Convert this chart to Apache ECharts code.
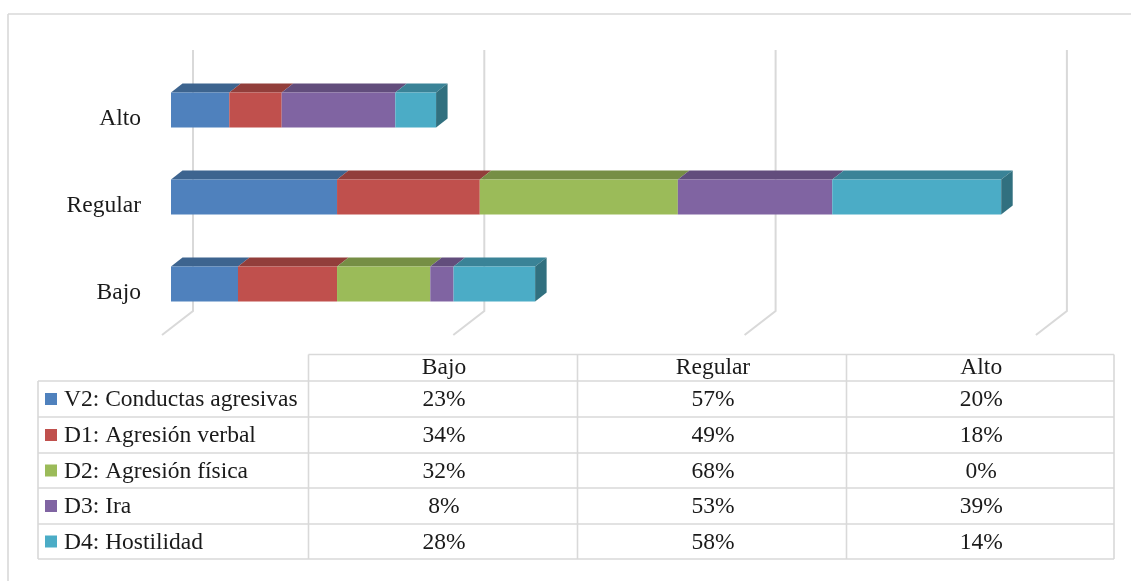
<!DOCTYPE html>
<html><head><meta charset="utf-8">
<style>html,body{margin:0;padding:0;background:#fff}#c{width:1131px;height:581px}</style>
<script src="https://cdn.jsdelivr.net/npm/echarts@6/dist/echarts.min.js"></script>
</head><body><div id="c"></div>
<script>
const categories = ['Bajo', 'Regular', 'Alto'];
const seriesNames = ['V2: Conductas agresivas', 'D1: Agresión verbal', 'D2: Agresión física', 'D3: Ira', 'D4: Hostilidad'];
const conductas = [23, 57, 20];
const verbal = [34, 49, 18];
const fisica = [32, 68, 0];
const ira = [8, 53, 39];
const hostilidad = [28, 58, 14];
const axisTicks = [0, 100, 200, 300];
const faceColors = ['#4F81BD', '#C0504D', '#9BBB59', '#8064A2', '#4BACC6'];
const topColors = ['#3D648F', '#923E3B', '#768E45', '#624D7C', '#3A8397'];
const sideColor = '#31707F';
const lineColor = '#D9D9D9';
const textColor = '#1A1A1A';
const FONT = '"Liberation Serif","Times New Roman",serif';
const FS = 23.5;

const allValues = [conductas, verbal, fisica, ira, hostilidad];
const totals = categories.map((_, c) => allValues.reduce((s, a) => s + a[c], 0));
const DX = 11.5, DY = 9;

function barSeries(i) {
  const data = categories.map((_, c) => {
    let start = 0;
    for (let k = 0; k < i; k++) start += allValues[k][c];
    return [start, start + allValues[i][c], c, totals[c]];
  });
  return {
    type: 'custom', name: seriesNames[i], z: 3 + i, clip: false, data: data,
    encode: { x: [0, 1], y: 2 },
    renderItem(params, api) {
      const s = api.value(0), e = api.value(1), t = api.value(3);
      if (e <= s) return { type: 'group', children: [] };
      const p0 = api.coord([s, api.value(2)]), p1 = api.coord([e, api.value(2)]);
      const h = api.size([0, 1])[1] * 0.402;
      const x0 = p0[0], x1 = p1[0], y0 = p0[1] - h / 2, y1 = p0[1] + h / 2;
      const kids = [
        { type: 'polygon', shape: { points: [[x0, y0], [x0 + DX, y0 - DY], [x1 + DX, y0 - DY], [x1, y0]] },
          style: { fill: topColors[i] } },
        { type: 'rect', shape: { x: x0, y: y0, width: x1 - x0, height: h }, style: { fill: faceColors[i] } }
      ];
      if (e === t) kids.push({ type: 'polygon',
        shape: { points: [[x1, y0], [x1 + DX, y0 - DY], [x1 + DX, y1 - DY], [x1, y1]] },
        style: { fill: sideColor } });
      return { type: 'group', children: kids };
    }
  };
}

const wallSeries = {
  type: 'custom', z: 1, clip: false, silent: true,
  data: axisTicks.map(v => [v]),
  encode: { x: 0 },
  renderItem(params, api) {
    const x = api.coord([api.value(0), 0])[0];
    return { type: 'polyline',
      shape: { points: [[x + 22, 50], [x + 22, 311], [x - 9, 335]] },
      style: { fill: 'none', stroke: lineColor, lineWidth: 2 } };
  }
};

/* data table and frame */
const colX = [38, 308.5, 577.5, 846.5, 1114];
const rowY = [354.5, 381, 417, 453, 488, 524, 559];
const g = [];
const seg = (x1, y1, x2, y2) => g.push({ type: 'line', shape: { x1, y1, x2, y2 }, style: { stroke: lineColor, lineWidth: 1.6 }, z: 1 });
seg(8, 14, 1131, 14); seg(8, 14, 8, 581);
seg(colX[1], rowY[0], colX[4], rowY[0]);
rowY.slice(1).forEach(y => seg(colX[0], y, colX[4], y));
colX.forEach((x, i) => seg(x, i === 0 ? rowY[1] : rowY[0], x, rowY[6]));
const txt = (text, x, y, align) => g.push({ type: 'text', x, y, z: 2,
  style: { text, fill: textColor, font: FS + 'px ' + FONT, align, verticalAlign: 'middle' } });
categories.forEach((c, j) => txt(c, (colX[j + 1] + colX[j + 2]) / 2 + 1, (rowY[0] + rowY[1]) / 2, 'center'));
seriesNames.forEach((n, i) => {
  const cy = (rowY[i + 1] + rowY[i + 2]) / 2;
  g.push({ type: 'rect', shape: { x: 45, y: cy - 6, width: 12, height: 12 }, style: { fill: faceColors[i] }, z: 2 });
  txt(n, 64, cy + 1, 'left');
  allValues[i].forEach((v, j) => txt(v + '%', (colX[j + 1] + colX[j + 2]) / 2 + 1, cy + 1, 'center'));
});

const chart = echarts.init(document.getElementById('c'), null, { renderer: 'canvas' });
chart.setOption({
  animation: false,
  backgroundColor: '#fff',
  grid: { left: 171, top: 66.5, width: 873.9, height: 261, containLabel: false },
  xAxis: { type: 'value', min: 0, max: 300, interval: 100, show: false },
  yAxis: { type: 'category', data: categories,
    axisLine: { show: false }, axisTick: { show: false }, splitLine: { show: false },
    axisLabel: { margin: 30, color: textColor, fontFamily: FONT, fontSize: FS, verticalAlign: 'top', lineHeight: 17 } },
  graphic: g,
  series: [wallSeries].concat(seriesNames.map((_, i) => barSeries(i)))
});
</script></body></html>
